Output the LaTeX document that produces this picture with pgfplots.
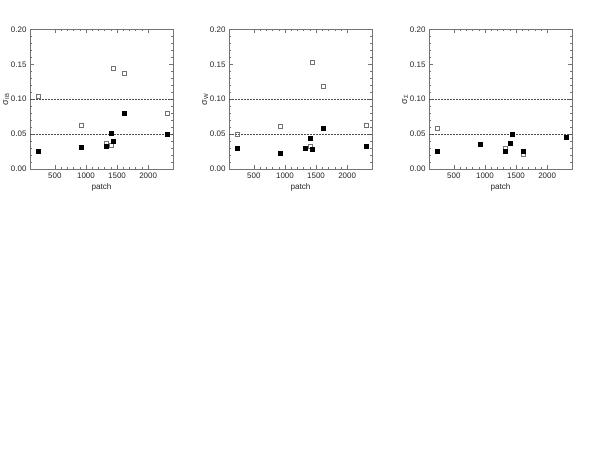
\documentclass[border=0pt]{standalone}
\usepackage{fontspec}
\setmainfont{Liberation Sans}
\usepackage{pgfplots}
\pgfplotsset{compat=1.18}

\pgfplotsset{
  patchpanel/.style={
    anchor=south west, scale only axis,
    width=143bp, height=139.5bp,
    xmin=100, xmax=2400, ymin=0, ymax=0.2,
    xtick={500,1000,1500,2000}, minor x tick num=4,
    ytick={0,0.05,0.10,0.15,0.20}, minor y tick num=4,
    tick align=inside,
    major tick length=4bp, minor tick length=2bp,
    every tick/.style={black!55, line width=0.4pt},
    axis line style={black!55, line width=0.5pt},
    /pgf/number format/assume math mode=true,
    yticklabel style={/pgf/number format/.cd, fixed, fixed zerofill, precision=2},
    xticklabel style={/pgf/number format/.cd, fixed, 1000 sep={}},
    ticklabel style={font=\fontsize{8}{9}\selectfont, text=black!85},
    xlabel style={font=\fontsize{8.2}{9}\selectfont, text=black!85, yshift=1bp},
    ylabel style={font=\fontsize{9}{10}\selectfont, text=black!85, yshift=-5bp},
    xlabel={patch},
    clip=false,
  },
  hline/.style={black!70, line width=0.4pt, dash pattern=on 1.8bp off 1.2bp},
  filled/.style={only marks, mark=square*, mark size=2bp, mark options={fill=black, draw=black}},
  open/.style={only marks, mark=square, mark size=2bp, mark options={draw=black!55, line width=0.4pt}},
}

\begin{document}
\begin{tikzpicture}
\path[use as bounding box] (0bp,0bp) rectangle (598bp,462bp);

% panel 1
\begin{axis}[patchpanel, at={(30bp,293bp)}, ylabel={σ\textsubscript{IB}}]
\addplot[hline] coordinates {(100,0.05) (2400,0.05)};
\addplot[hline] coordinates {(100,0.10) (2400,0.10)};
\addplot[open] coordinates {(225,0.104) (921,0.063) (1326,0.037) (1412,0.034) (1445,0.145) (1618,0.138) (2314,0.080)};
\addplot[filled] coordinates {(225,0.026) (921,0.031) (1326,0.032) (1412,0.052) (1445,0.040) (1618,0.080) (2314,0.050)};
\end{axis}

% panel 2
\begin{axis}[patchpanel, at={(229bp,293bp)}, ylabel={σ\textsubscript{W}}]
\addplot[hline] coordinates {(100,0.05) (2400,0.05)};
\addplot[hline] coordinates {(100,0.10) (2400,0.10)};
\addplot[open] coordinates {(225,0.050) (921,0.061) (1326,0.030) (1412,0.032) (1445,0.153) (1618,0.119) (2314,0.063)};
\addplot[filled] coordinates {(225,0.030) (921,0.022) (1326,0.030) (1412,0.044) (1445,0.028) (1618,0.058) (2314,0.033)};
\end{axis}

% panel 3
\begin{axis}[patchpanel, at={(429bp,293bp)}, ylabel={σ\textsubscript{Σ}}]
\addplot[hline] coordinates {(100,0.05) (2400,0.05)};
\addplot[hline] coordinates {(100,0.10) (2400,0.10)};
\addplot[open] coordinates {(225,0.059) (921,0.035) (1326,0.030) (1412,0.037) (1445,0.050) (1618,0.021) (2314,0.046)};
\addplot[filled] coordinates {(225,0.026) (921,0.035) (1326,0.026) (1412,0.037) (1445,0.050) (1618,0.025) (2314,0.045)};
\end{axis}
\end{tikzpicture}
\end{document}
